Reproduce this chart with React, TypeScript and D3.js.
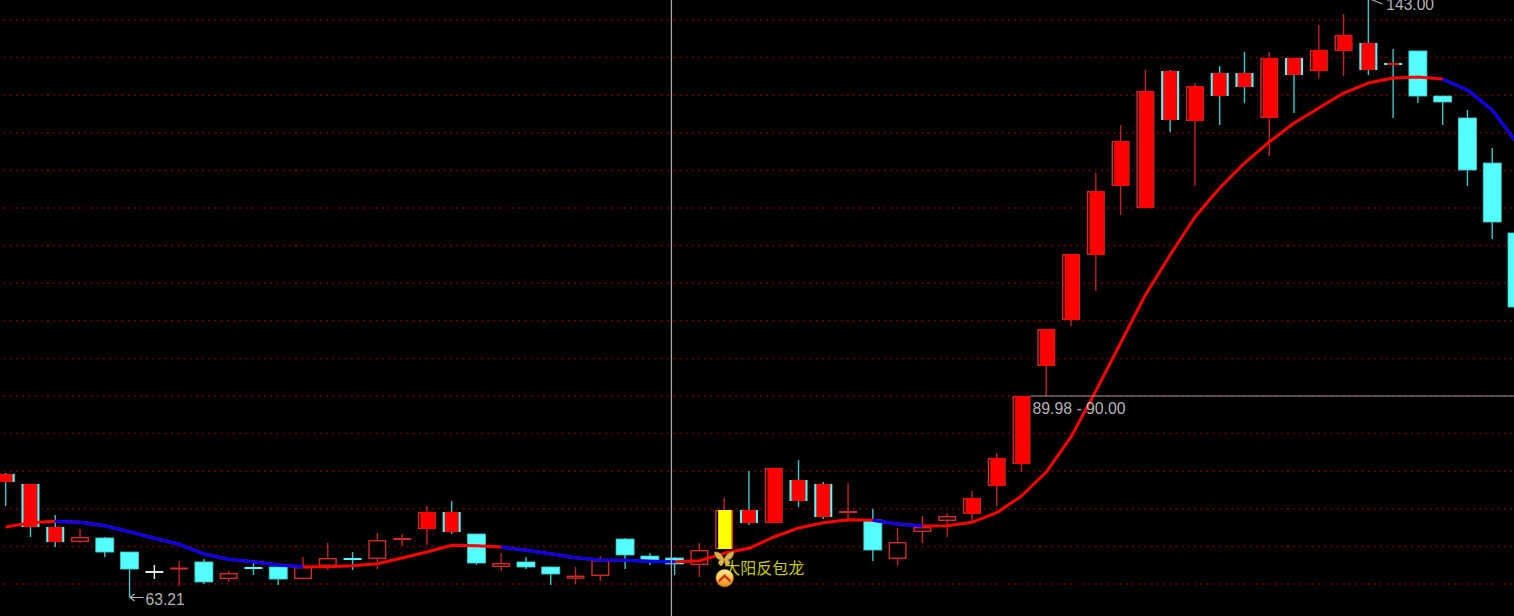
import React from "react";
import * as d3 from "d3";

const opens = [78.56,72.58,70.58,70.58,71.12,69.25,66.60,67.06,67.93,65.66,67.13,67.26,65.66,67.39,68.32,68.32,70.98,72.31,71.91,71.65,67.26,67.93,67.26,65.70,66.06,70.98,68.72,68.46,67.53,69.65,73.11,73.11,76.04,73.91,74.57,73.51,68.32,71.91,73.38,74.31,78.03,80.96,93.99,100.11,108.75,117.93,115.00,126.70,126.57,129.89,131.09,126.97,132.69,133.22,135.88,133.35,134.15,135.88,129.89,126.97,120.98,111.68];
const closes = [79.63,78.30,72.58,71.25,69.25,66.99,66.60,67.06,65.27,66.46,67.13,65.66,67.26,68.46,68.32,70.85,70.98,74.57,74.57,67.79,67.79,67.26,66.33,66.12,68.19,68.86,68.06,67.66,69.52,74.84,74.84,80.43,78.83,78.30,74.57,69.52,70.58,72.58,74.04,76.44,81.76,90.00,98.91,108.88,117.26,123.91,130.56,133.22,131.22,132.95,132.95,134.95,134.95,136.01,138.01,136.94,134.15,129.89,129.10,120.05,113.14,101.83];
const highs = [79.76,78.30,74.18,72.31,71.25,69.25,67.53,68.06,68.32,66.73,67.79,67.26,68.59,70.45,69.25,71.78,71.65,75.37,76.04,71.65,69.12,68.59,67.26,67.26,68.72,71.12,69.12,68.59,70.45,76.44,80.03,80.43,81.49,78.56,78.43,74.97,72.45,74.04,74.44,77.37,82.42,90.00,98.91,108.88,119.65,126.04,133.35,133.35,131.62,133.88,135.75,135.75,134.95,139.34,140.80,143.00,136.14,135.88,129.89,128.03,122.98,111.68];
const lows = [75.37,71.25,69.92,70.45,68.59,63.21,65.66,64.73,65.00,65.27,66.20,64.87,65.66,66.86,66.86,66.99,70.05,70.19,71.65,67.53,66.73,66.99,64.87,65.00,65.40,66.99,67.53,66.20,65.93,69.65,72.85,73.11,75.24,73.64,73.24,68.06,67.39,70.45,71.25,73.24,75.37,79.89,90.00,99.31,103.96,114.07,115.00,125.11,117.93,126.04,128.96,121.92,127.63,132.29,132.55,132.69,126.97,128.96,126.04,117.93,110.88,101.83];
// h hollow red, c cyan, r solid red, m red with cyan edges, y signal yellow, w white doji
const kinds = ["m","m","m","h","c","c","w","r","c","h","c","c","h","h","c","h","h","r","m","c","h","c","c","h","h","c","c","c","h","y","m","r","m","m","r","c","h","h","h","r","r","r","r","r","r","r","r","m","r","m","m","r","m","r","r","m","m","c","c","c","c","c"];
const maValues = [72.58,73.15,73.34,73.20,72.75,71.95,71.08,70.28,68.99,68.28,67.96,67.53,67.30,67.30,67.43,67.70,68.46,69.25,70.15,70.09,69.92,69.48,69.03,68.50,68.19,68.15,68.02,67.96,68.10,69.08,69.75,71.25,72.45,73.15,73.55,73.47,72.98,72.71,72.75,73.20,74.48,76.70,79.89,84.55,90.66,97.05,103.43,108.75,113.80,117.66,120.98,123.78,126.30,128.30,130.29,131.62,132.29,132.42,132.15,130.69,128.03,123.64];
const maFalling = [[2,12],[20,27],[35,37],[58,61]];
const gridPrices = d3.range(65, 145, 5);
const crosshairIndex = 26.87;
const labelLow = "63.21";
const labelHigh = "143.00";
const labelRange = "89.98 - 90.00";
const labelSignal = "大阳反包龙";
const cursorPrice = 90;
const lowIndex = 5;
const highIndex = 55;
const rangeIndex = 41;
const signalIndex = 29;

const W = 1514, H = 616;
const x = d3.scaleLinear().domain([0, 61]).range([5.7, 1517]);
const y = d3.scaleLinear().domain([90, 65]).range([396, 584]);
const RED = "#ff0000", CYAN = "#54ffff", EDGE = "#d62a2a", WICKR = "#c22222", WICKC = "#35c9c9", GRAY = "#b4b4b4";
const HALF = 9;
const fontLatin = "'Liberation Sans', Arial, sans-serif";

function candle(i: number) {
  const k = kinds[i], cx = x(i), o = opens[i], c = closes[i];
  const top = y(Math.max(o, c)), bot = y(Math.min(o, c)), h = bot - top;
  const wick = k === "w" ? "#e8e8e8" : k === "c" || k === "m" ? WICKC : WICKR;
  const doji = h < 1;
  const bodyW = HALF * 2;
  return (
    <g key={i}>
      <line x1={cx} x2={cx} y1={y(highs[i])} y2={y(lows[i])} stroke={wick} strokeWidth={1.4} />
      {doji && (
        <>
          <line x1={cx - HALF} x2={cx + HALF} y1={top} y2={top} stroke={k === "w" ? "#e8e8e8" : k === "c" ? CYAN : k === "m" ? CYAN : EDGE} strokeWidth={2} />
          {k === "m" && <line x1={cx - HALF + 3} x2={cx + HALF - 3} y1={top} y2={top} stroke={RED} strokeWidth={2} />}
        </>
      )}
      {!doji && k === "h" && <rect x={cx - HALF + 0.7} y={top + 0.7} width={bodyW - 1.4} height={Math.max(h - 1.4, 0.5)} fill="#000" stroke={EDGE} strokeWidth={1.4} />}
      {!doji && k === "c" && <rect x={cx - HALF} y={top} width={bodyW} height={h} fill={CYAN} stroke="#3fc7c7" strokeWidth={0.8} />}
      {!doji && k === "r" && (
        <>
          <rect x={cx - HALF + 0.7} y={top + 0.7} width={bodyW - 1.4} height={h - 1.4} fill="#000" stroke={EDGE} strokeWidth={1.4} />
          <rect x={cx - HALF + 2.6} y={top} width={bodyW - 3.4} height={h} fill={RED} />
        </>
      )}
      {!doji && k === "m" && (
        <>
          <rect x={cx - HALF} y={top} width={bodyW} height={h} fill={CYAN} />
          <rect x={cx - HALF + 2} y={top} width={bodyW - 4} height={h} fill={RED} />
        </>
      )}
      {!doji && k === "y" && (
        <>
          <rect x={cx - HALF + 0.7} y={top + 0.7} width={bodyW - 1.4} height={h - 1.4} fill="#000" stroke={EDGE} strokeWidth={1.4} />
          <rect x={cx - HALF + 3} y={top} width={bodyW - 4.5} height={h} fill="#ffff00" />
        </>
      )}
    </g>
  );
}

export default function App() {
  const line = d3.line<number>().x((_, i) => x(i)).y((v) => y(v));
  const maPath = line(maValues) as string;
  const segment = d3.line<[number, number]>().x((d) => x(d[0])).y((d) => y(d[1]));
  const lx = x(lowIndex), ly = y(lows[lowIndex]);
  const hx = x(highIndex);
  const rx = x(rangeIndex) + HALF;
  const sx = x(signalIndex);
  const sy = y(lows[signalIndex]);
  return (
    <svg width={W} height={H} viewBox={`0 0 ${W} ${H}`} style={{ position: "absolute", left: 0, top: 0, background: "#000", display: "block" }}>
      <defs>
        <linearGradient id="coin" x1="0" y1="0" x2="0" y2="1">
          <stop offset="0" stopColor="#fff2a0" />
          <stop offset="0.45" stopColor="#f7c94a" />
          <stop offset="1" stopColor="#e8871c" />
        </linearGradient>
      </defs>
      <rect width={W} height={H} fill="#000" />
      {gridPrices.map((p) => (
        <line key={p} x1={3.6} x2={W} y1={y(p)} y2={y(p)} stroke="#760000" strokeWidth={1.5} strokeDasharray="2 4.2" />
      ))}
      {opens.map((_, i) => candle(i))}
      <path d={maPath} fill="none" stroke={RED} strokeWidth={3} strokeLinejoin="round" />
      {maFalling.map(([a, b]) => (
        <path key={a} d={segment(d3.range(a, b + 1).map((i) => [i, maValues[i]] as [number, number])) as string} fill="none" stroke="#0000ff" strokeWidth={3} strokeLinejoin="round" />
      ))}
      <line x1={x(crosshairIndex)} x2={x(crosshairIndex)} y1={0} y2={H} stroke="#a8a8a8" strokeWidth={1.3} />
      <line x1={rx} x2={W} y1={y(cursorPrice)} y2={y(cursorPrice)} stroke="#9a9a9a" strokeWidth={1.2} />
      <text x={rx + 2} y={y(cursorPrice) + 17.5} fill={GRAY} fontSize={15.8} fontFamily={fontLatin}>{labelRange}</text>
      <path d={`M${lx + 14},${ly} H${lx + 0.5} M${lx + 5},${ly - 3.5} L${lx + 0.5},${ly} L${lx + 5},${ly + 3.5}`} fill="none" stroke={GRAY} strokeWidth={1.1} />
      <text x={lx + 16} y={ly + 7.5} fill={GRAY} fontSize={15.6} fontFamily={fontLatin}>{labelLow}</text>
      <path d={`M${hx + 2},${-1} L${hx + 14},${4}`} fill="none" stroke={GRAY} strokeWidth={1.1} />
      <text x={hx + 18} y={9.5} fill={GRAY} fontSize={15.6} fontFamily={fontLatin}>{labelHigh}</text>
      <g transform={`translate(${sx},${sy + 10})`}>
        <path d="M0,0 C-2,-5 -6,-8 -10,-7 C-9,-3 -8,0 -4,1 C-7,2 -6,6 -3,7 C-1,6 0,3 0,1 C0,3 1,6 3,7 C6,6 7,2 4,1 C8,0 9,-3 10,-7 C6,-8 2,-5 0,0 Z" fill="#d9b24a" stroke="#8a6a20" strokeWidth={0.5} />
      </g>
      <text x={sx} y={sy + 25} fill="#c8c800" fontSize={16} fontFamily="'Noto Sans CJK SC', sans-serif">{labelSignal}</text>
      <g transform={`translate(${sx + 0.5},${sy + 29})`}>
        <circle r={8.8} fill="url(#coin)" stroke="#b06a10" strokeWidth={0.6} />
        <path d="M-6,2 L0,-4 L6,2 L6,5 L0,-0.5 L-6,5 Z" fill="#c9321e" />
      </g>
    </svg>
  );
}
